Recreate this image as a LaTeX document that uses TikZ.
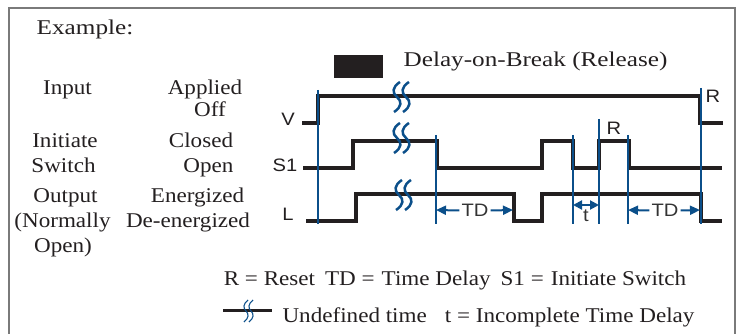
\documentclass[tikz,border=0pt]{standalone}
\usepackage{fontspec}
\setmainfont{Liberation Serif}[FakeStretch=1.1]
\newfontfamily\widefont{Liberation Serif}[FakeStretch=1.2]
\newfontfamily\lblfont{Liberation Sans}[FakeStretch=1.12]
\usetikzlibrary{arrows.meta}
\definecolor{sigblack}{HTML}{231F20}
\definecolor{tblue}{HTML}{0B4F8A}
\definecolor{framegray}{HTML}{7A7A7A}
\definecolor{tdgray}{HTML}{333333}
\begin{document}
\begin{tikzpicture}[x=1pt,y=-1pt,
  sig/.style={draw=sigblack,line width=4.5pt,line join=miter},
  bline/.style={draw=tblue,line width=2.5pt},
  wave/.style={draw=tblue,line width=2.5pt},
  txt/.style={font=\fontsize{21}{25}\selectfont,text=sigblack,inner sep=0pt,anchor=base},
  wtxt/.style={font=\widefont\fontsize{21}{25}\selectfont,text=sigblack,inner sep=0pt,anchor=base},
  lbl/.style={font=\lblfont\fontsize{18}{20}\selectfont,text=sigblack,inner sep=0pt,anchor=base},
  tdlbl/.style={font=\lblfont\fontsize{18}{20}\selectfont,text=tdgray,inner sep=2pt,anchor=center},
  tdarrow/.style={draw=tblue,line width=2pt,-{Triangle[length=10pt,width=9pt]}}
]
\useasboundingbox (0,0) rectangle (737,334);
\draw[framegray,line width=1.5pt] (9,334) -- (9,8) -- (735,8) -- (735,334);

% left texts
\node[wtxt] (ex) at (85,35) {Example:};
\node[txt] (inp) at (67.5,95) {Input};
\node[txt] (app) at (205,95) {Applied};
\node[txt] (off) at (210,117) {Off};
\node[txt] (ini) at (65,148) {Initiate};
\node[txt] (swi) at (63.5,173) {Switch};
\node[txt] (clo) at (201,148) {Closed};
\node[txt] (opn) at (208.5,173) {Open};
\node[txt] (out) at (65.5,203) {Output};
\node[txt] (nrm) at (62.5,228) {(Normally};
\node[txt] (opn2) at (63,252) {Open)};
\node[txt] (ene) at (197.5,203) {Energized};
\node[txt] (dee) at (188,228) {De-energized};

% title
\node[fill=sigblack,minimum width=49pt,minimum height=23pt,inner sep=0pt] (blk) at (358.5,66.5) {};
\node[wtxt] (title) at (535.5,67) {Delay-on-Break (Release)};

% signal labels
\node[lbl] (lv) at (288,126) {V};
\node[lbl] (ls) at (285,172) {S1};
\node[lbl] (ll) at (288,221) {L};
\node[lbl] (r1) at (713,103) {R};
\node[lbl] (r2) at (614,135) {R};

% signals
\draw[sig] (302,123) -- (318,123) -- (318,96) -- (700,96) -- (700,123) -- (723,123);
\draw[sig] (303,168) -- (353,168) -- (353,141) -- (437,141) -- (437,168) -- (542,168) -- (542,141)
  -- (573,141) -- (573,168) -- (599,168) -- (599,141) -- (629,141) -- (629,168) -- (722,168);
\draw[sig] (306,221) -- (356,221) -- (356,194) -- (514,194) -- (514,221) -- (542,221) -- (542,194)
  -- (701,194) -- (701,221) -- (722,221);

% blue time markers
\coordinate (m1t) at (318,90);  \coordinate (m1b) at (318,224);
\coordinate (m2t) at (436,135); \coordinate (m2b) at (436,224);
\coordinate (m3t) at (573,135); \coordinate (m3b) at (573,224);
\coordinate (m4t) at (599,119); \coordinate (m4b) at (599,224);
\coordinate (m5t) at (628,135); \coordinate (m5b) at (628,224);
\coordinate (m6t) at (701,88);  \coordinate (m6b) at (701,224);
\foreach \m in {1,...,6} \draw[bline] (m\m t) -- (m\m b);

% break marks
\foreach \bx/\by in {397/97,406/97,397/138,406/138,399/195,408/195}
  \draw[wave] (\bx+3,\by-15) .. controls (\bx-5,\by-10) and (\bx-5,\by-4) .. (\bx,\by)
     .. controls (\bx+5,\by+4) and (\bx+5,\by+10) .. (\bx-3,\by+15);

% TD arrows
\coordinate (a1l) at (436,210); \coordinate (a1r) at (513,210);
\node[tdlbl] (td1) at (475,210.5) {TD};
\draw[tdarrow] (td1.west) -- (a1l);
\draw[tdarrow] (td1.east) -- (a1r);
\coordinate (a2l) at (628,210); \coordinate (a2r) at (700,210);
\node[tdlbl] (td2) at (665,210.5) {TD};
\draw[tdarrow] (td2.west) -- (a2l);
\draw[tdarrow] (td2.east) -- (a2r);
\coordinate (tl) at (573,205); \coordinate (tr) at (599,205);
\draw[draw=tblue,line width=2pt,{Triangle[length=9pt,width=9pt]}-{Triangle[length=9pt,width=9pt]}] (tl) -- (tr);
\node[lbl,text=tdgray] (tt) at (586,222) {t};

% legend
\node[txt] (leg1) at (455,285) {R = Reset\hspace{10pt}TD =\hspace{7pt}Time Delay\hspace{10pt}S1 =\hspace{7pt}Initiate Switch};
\coordinate (sl) at (223,310); \coordinate (sr) at (272,310);
\draw[sigblack,line width=3pt] (sl) -- (sr);
\foreach \bx in {246,251}
  \draw[draw=tblue,line width=1.1pt] (\bx+2,300) .. controls (\bx-3,304) and (\bx-3,308) .. (\bx,311)
     .. controls (\bx+3,314) and (\bx+3,318) .. (\bx-2,322);
\node[txt] (leg2) at (488.5,322) {Undefined time\hspace{18pt}t = Incomplete Time Delay};
\end{tikzpicture}
\end{document}
